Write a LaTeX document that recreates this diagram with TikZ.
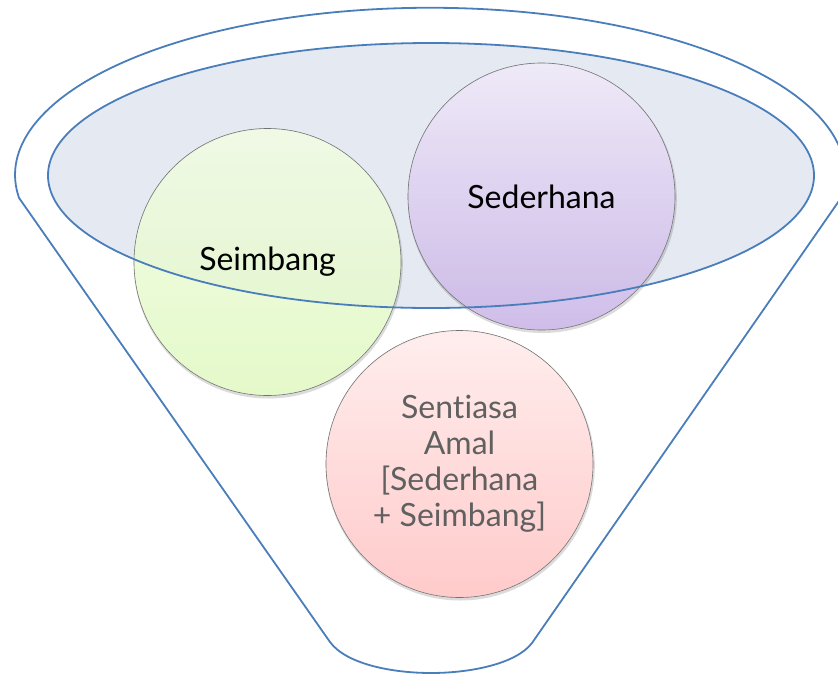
\documentclass[tikz,border=0pt]{standalone}
\usepackage{fontspec}
\setmainfont[Ligatures=NoCommon]{Lato}
\usetikzlibrary{calc}
\definecolor{funnelblue}{HTML}{4A7EBB}
\definecolor{ellfill}{HTML}{E4E9F2}
\definecolor{greentop}{HTML}{F2FCE4}
\definecolor{greenbot}{HTML}{E0F8C2}
\definecolor{purptop}{HTML}{F1EAF9}
\definecolor{purpbot}{HTML}{C9B4E6}
\definecolor{pinktop}{HTML}{FFEBEB}
\definecolor{pinkbot}{HTML}{FFC3C3}
\definecolor{pinktext}{HTML}{606060}
\tikzset{
  funnel/.style={draw=funnelblue, line width=1.8pt, line join=round},
  ball/.style={circle, minimum size=267pt, inner sep=0pt, draw=black!55, line width=0.6pt, fill opacity=0.88, text opacity=1},
  ringshadow/.style={fill=black, opacity=0.14, even odd rule},
  bigtext/.style={font=\fontsize{32}{36}\selectfont}
}
\begin{document}
\begin{tikzpicture}[x=1pt,y=-1pt]
\useasboundingbox (0,0) rectangle (838,675);
\clip (0,0) rectangle (838,675);
% outer funnel outline
\draw[funnel] (841,198) arc[start angle=8, end angle=-188, x radius=415, y radius=167]
  -- (330,642) .. controls (346,664) and (392,673) .. (431,673)
  .. controls (470,673) and (516,664) .. (532,643) -- cycle;
% inner ellipse fill
\fill[ellfill] (431,175.5) ellipse [x radius=383, y radius=132.5];
% circle shadows
\coordinate (cg) at (267.5,262);
\coordinate (cp) at (541.5,196.5);
\coordinate (cs) at (459.5,464);
\fill[ringshadow] ($(cg)+(0.8,2)$) circle (134.5) (cg) circle (133.5);
\fill[ringshadow] ($(cp)+(0.8,2)$) circle (134.5) (cp) circle (133.5);
\fill[ringshadow] ($(cs)+(0.8,2)$) circle (134.5) (cs) circle (133.5);
% circles
\node[ball, top color=greentop, bottom color=greenbot, bigtext] (seimbang) at (cg) {Seimbang};
\node[ball, top color=purptop, bottom color=purpbot, bigtext] (sederhana) at (cp) {Sederhana};
\node[ball, top color=pinktop, bottom color=pinkbot, bigtext, text=pinktext, align=center] (amal) at (cs) {Sent\kern0.3pt iasa\\Amal\\{[}Sederhana\\+ Seimbang{]}};
% inner ellipse outline on top
\draw[funnel] (431,175.5) ellipse [x radius=383, y radius=132.5];
\end{tikzpicture}
\end{document}
